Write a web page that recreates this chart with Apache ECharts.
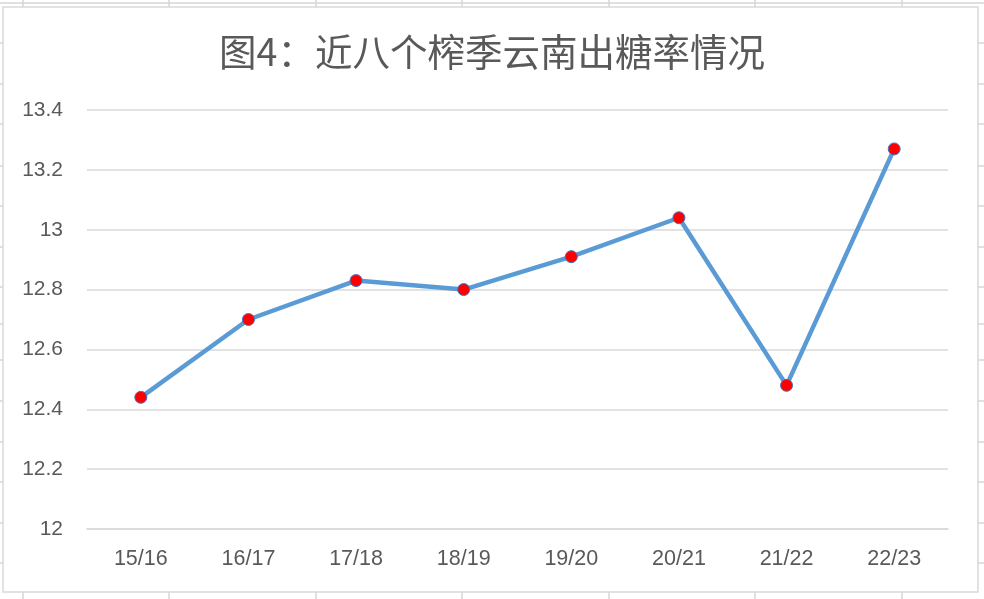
<!DOCTYPE html>
<html>
<head>
<meta charset="utf-8">
<script src="https://cdn.jsdelivr.net/npm/echarts@6/dist/echarts.min.js"></script>
<style>
html,body{margin:0;padding:0;background:#fff;}
#c{width:984px;height:599px;}
</style>
</head>
<body>
<div id="c"></div>
<script>
var titleText = '图4：近八个榨季云南出糖率情况';
var categories = ['15/16','16/17','17/18','18/19','19/20','20/21','21/22','22/23'];
var sugarRate = [12.44, 12.70, 12.83, 12.80, 12.91, 13.04, 12.48, 13.27];
var yMin = 12, yMax = 13.4, yStep = 0.2;

// decorative spreadsheet cell lines around the chart box
var colLinesX = [23, 169, 316, 462, 609, 755, 902];
var rowLinesY = [43, 84, 124, 166, 206, 247, 287, 324, 360, 401, 442, 482, 523, 563];
var cellColor = '#d6d6d6';
var graphics = [];
graphics.push({type:'line', shape:{x1:0,y1:3,x2:984,y2:3}, style:{stroke:cellColor,lineWidth:1.5}, z:-1});
colLinesX.forEach(function(x){
  graphics.push({type:'line', shape:{x1:x,y1:0,x2:x,y2:7}, style:{stroke:cellColor,lineWidth:1.5}, z:-1});
  graphics.push({type:'line', shape:{x1:x,y1:592,x2:x,y2:599}, style:{stroke:cellColor,lineWidth:1.5}, z:-1});
});
rowLinesY.forEach(function(y){
  graphics.push({type:'line', shape:{x1:0,y1:y,x2:3,y2:y}, style:{stroke:cellColor,lineWidth:1.5}, z:-1});
  graphics.push({type:'line', shape:{x1:978,y1:y,x2:984,y2:y}, style:{stroke:cellColor,lineWidth:1.5}, z:-1});
});
graphics.push({type:'rect', shape:{x:3,y:7,width:975,height:585}, style:{fill:'#fff',stroke:'#d9d9d9',lineWidth:1.5}, z:-2});

var chart = echarts.init(document.getElementById('c'), null, {renderer:'canvas'});
chart.setOption({
  backgroundColor:'#fff',
  animation:false,
  graphic: graphics,
  title:{
    text:titleText,
    left:'center',
    top:28,
    textStyle:{
      fontFamily:'"Noto Sans CJK SC", sans-serif',
      fontSize:37.5,
      fontWeight:'normal',
      color:'#595959'
    }
  },
  grid:{left:87, right:36, top:110, bottom:70},
  xAxis:{
    type:'category',
    data:categories,
    boundaryGap:true,
    axisLine:{show:true, lineStyle:{color:'#d9d9d9', width:1.5}},
    axisTick:{show:false},
    axisLabel:{
      margin:19,
      fontSize:21.5,
      fontFamily:'"Liberation Sans", Arial, sans-serif',
      color:'#595959'
    }
  },
  yAxis:{
    type:'value',
    min:yMin, max:yMax, interval:yStep,
    axisLine:{show:false},
    axisTick:{show:false},
    splitLine:{lineStyle:{color:'#d9d9d9', width:1.5}},
    axisLabel:{
      margin:24,
      fontSize:21,
      fontFamily:'"Liberation Sans", Arial, sans-serif',
      color:'#595959'
    }
  },
  series:[{
    type:'line',
    data:sugarRate,
    lineStyle:{color:'#5B9BD5', width:4.5},
    symbol:'circle',
    symbolSize:12,
    itemStyle:{color:'#FF0000', borderColor:'#4472C4', borderWidth:1},
    z:3
  }]
});
</script>
</body>
</html>
